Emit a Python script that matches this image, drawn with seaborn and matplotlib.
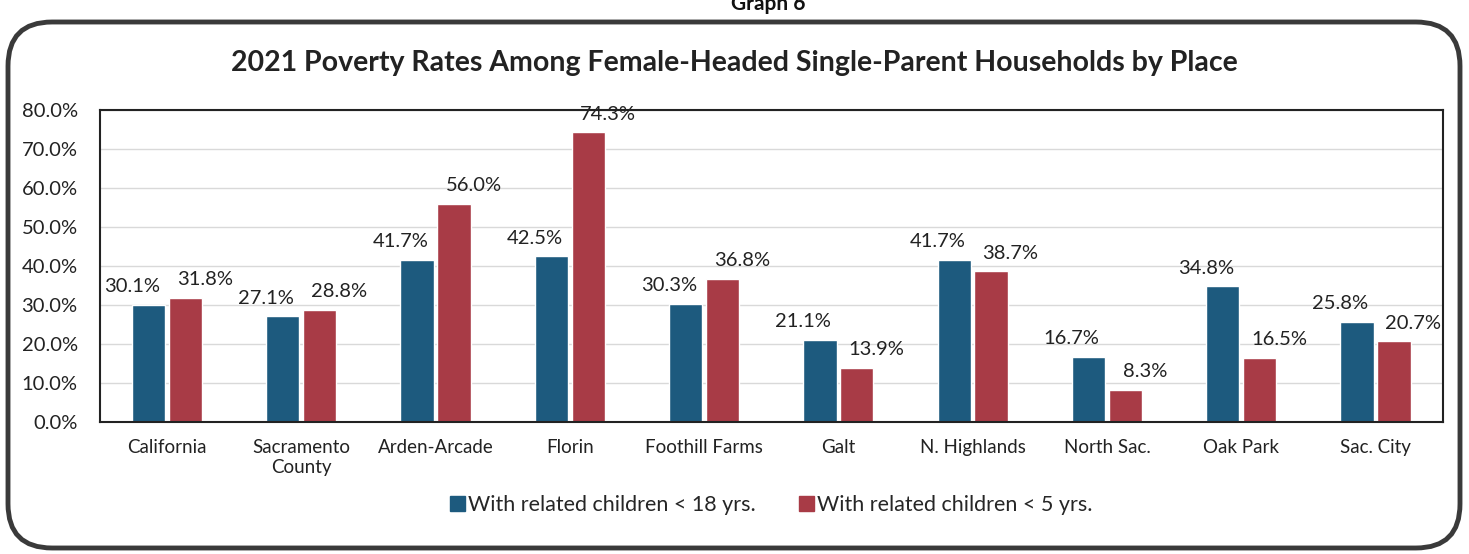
import matplotlib
matplotlib.use("Agg")
import matplotlib.pyplot as plt
from matplotlib.patches import FancyBboxPatch
from matplotlib.ticker import FuncFormatter, MultipleLocator
import seaborn as sns
import pandas as pd

# Places and poverty rates (%) for female-headed single-parent households, 2021
places = ["California", "Sacramento\nCounty", "Arden-Arcade", "Florin", "Foothill Farms",
          "Galt", "N. Highlands", "North Sac.", "Oak Park", "Sac. City"]
under_18 = [30.1, 27.1, 41.7, 42.5, 30.3, 21.1, 41.7, 16.7, 34.8, 25.8]
under_5 = [31.8, 28.8, 56.0, 74.3, 36.8, 13.9, 38.7, 8.3, 16.5, 20.7]
series = ["With related children < 18 yrs.", "With related children < 5 yrs."]
colors = ["#1d5a7e", "#a83b46"]

df = pd.DataFrame({
    "place": places * 2,
    "rate": under_18 + under_5,
    "group": [series[0]] * len(places) + [series[1]] * len(places),
})

sns.set_theme(style="white")
plt.rcParams["font.family"] = ["Lato", "DejaVu Sans"]

fig = plt.figure(figsize=(14.69, 5.54), dpi=100)
ax = fig.add_axes([0.068, 0.238, 0.914, 0.563])

sns.barplot(data=df, x="place", y="rate", hue="group", palette=colors,
            width=0.55, gap=0.1, ax=ax, legend=False, saturation=1)

ax.set_ylim(0, 80)
ax.yaxis.set_major_locator(MultipleLocator(10))
ax.yaxis.set_major_formatter(FuncFormatter(lambda v, p: f"{v:.1f}%"))
ax.grid(axis="y", color="#d9d9d9", linewidth=1)
ax.set_axisbelow(True)
ax.set_xlabel("")
ax.set_ylabel("")
ax.tick_params(axis="y", labelsize=14.5, pad=16, length=0, labelcolor="#222222")
ax.tick_params(axis="x", labelsize=13.5, pad=12, length=0, labelcolor="#222222")
for s in ax.spines.values():
    s.set_visible(True)
    s.set_color("#222222")
    s.set_linewidth(1.5)

# Value labels, nudged outward so neighbouring labels stay apart
for cont, dx in zip(ax.containers, (-12, 14)):
    for bar, v in zip(cont, cont.datavalues):
        ax.annotate(f"{v:.1f}%", (bar.get_x() + bar.get_width() / 2, v),
                    xytext=(dx, 7), textcoords="offset points",
                    ha="center", va="bottom", fontsize=14.5, color="#222222")

# Legend with square markers below the axis
handles = [plt.Rectangle((0, 0), 1, 1, color=c) for c in colors]
fig.legend(handles, series, loc="center", bbox_to_anchor=(0.525, 0.088), ncol=2,
           frameon=False, fontsize=15.5, handlelength=0.7, handleheight=0.7,
           handletextpad=0.15, columnspacing=2.0)

fig.suptitle("2021 Poverty Rates Among Female-Headed Single-Parent Households by Place",
             x=0.5, y=0.91, fontsize=20.5, fontweight="bold", color="#222222")

fig.text(0.523, 1 - 10 / 554, "Graph 6", ha="center", va="baseline",
         fontsize=15, fontweight="bold", color="#111111")

frame = FancyBboxPatch((8 / 1469, 6 / 554), 1452 / 1469, 526 / 554,
                       boxstyle="round,pad=0,rounding_size=0.03",
                       transform=fig.transFigure, fill=False,
                       edgecolor="#3a3a3a", linewidth=3.5, mutation_aspect=1469 / 554)
fig.patches.append(frame)

fig.savefig("out.png", dpi=100)
